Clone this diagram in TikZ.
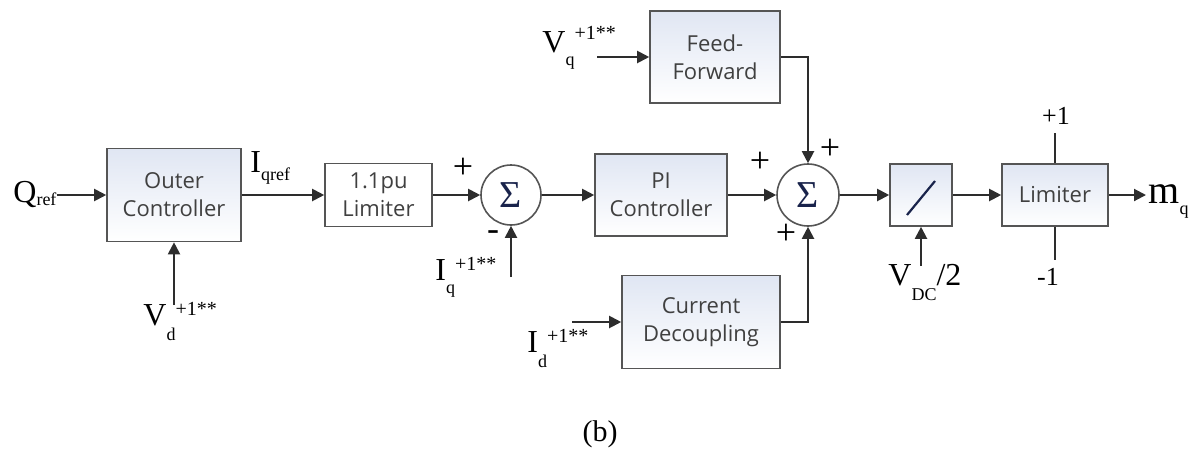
\documentclass[tikz,border=0pt]{standalone}
\usepackage{fontspec}
\setmainfont{Liberation Serif}
\newfontfamily\blkfont{Open Sans}
\usetikzlibrary{arrows.meta}
\definecolor{boxline}{RGB}{85,85,85}
\definecolor{boxtop}{RGB}{224,230,243}
\definecolor{wire}{RGB}{45,45,45}
\definecolor{navy}{RGB}{25,35,75}
% signal name: main letter, lowered subscript, raised superscript
\newcommand{\sig}[4][0.4em]{#2\raisebox{-#1}{\fontsize{9}{9}\selectfont #3}\raisebox{0.3em}{\fontsize{10}{10}\selectfont #4}}
\tikzset{
  boxbase/.style={draw=boxline,line width=0.8pt,align=center,inner sep=0pt,
    font=\blkfont\fontsize{11}{14}\selectfont,text=black!75},
  blk/.style={boxbase,top color=boxtop,bottom color=white},
  plainblk/.style={boxbase,fill=white},
  sumpt/.style={circle,draw=boxline,line width=0.8pt,fill=white,inner sep=0pt,
    minimum size=30pt,text=navy,font=\fontsize{19}{19}\selectfont},
  flow/.style={draw=wire,line width=1pt,-{Triangle[length=6pt,width=6pt]}},
  wireln/.style={draw=wire,line width=1pt},
  lbl/.style={inner sep=0pt,font=\fontsize{16}{18}\selectfont},
  sgn/.style={inner sep=0pt,font=\fontsize{18}{18}\selectfont},
  lim/.style={inner sep=0pt,font=\fontsize{13}{13}\selectfont}
}
\begin{document}
\begin{tikzpicture}[x=0.5pt,y=-0.5pt]
  \useasboundingbox (0,0) rectangle (1202,450);

  % blocks
  \node[blk,minimum width=67pt,minimum height=46.5pt] (outer) at (174,195) {Outer\\Controller};
  \node[plainblk,minimum width=53.5pt,minimum height=31.5pt] (lim1) at (378.5,195) {1.1pu\\Limiter};
  \node[sumpt] (sum1) at (511,195) {Σ};
  \node[blk,minimum width=66pt,minimum height=41pt] (pi) at (661,195) {PI\\Controller};
  \node[blk,minimum width=65pt,minimum height=46pt] (ff) at (715,57) {Feed-\\Forward};
  \node[sumpt,minimum size=31pt] (sum2) at (808,195) {Σ};
  \node[blk,minimum width=79pt,minimum height=46.5pt] (cd) at (701,322) {Current\\Decoupling};
  \node[blk,minimum width=31pt,minimum height=31pt] (div) at (921,195) {};
  \draw[navy,line width=1.1pt] ([shift={(-14,20)}]div.center) -- ([shift={(14,-14)}]div.center);
  \node[blk,minimum width=53pt,minimum height=31pt] (lim2) at (1055,195) {Limiter};

  % signal names
  \node[lbl,anchor=base west] (qref) at (13,202) {\sig[0.1em]{Q}{ref}{}};
  \node[lbl,anchor=base west] (iqref) at (250,172) {\sig[0.28em]{I}{qref}{}};
  \node[lbl,anchor=base west] (vd) at (143,325) {\sig[0.47em]{V}{d}{+1**}};
  \node[lbl,anchor=base west] (iq) at (435,280) {\sig[0.42em]{I}{q}{+1**}};
  \node[lbl,anchor=base west] (vq) at (542,52) {\sig[0.42em]{V}{q}{\raisebox{0.15em}{+1**}}};
  \node[lbl,anchor=base west] (id) at (527,352) {\sig[0.47em]{I}{d}{+1**}};
  \node[lbl,anchor=base west] (vdc) at (888,285) {\sig[0.47em]{V}{DC}{}/2};
  \node[lbl,anchor=base west] (mq) at (1148,203) {{\fontsize{20}{20}\selectfont m}\raisebox{-0.35em}{\fontsize{9}{9}\selectfont q}};
  \node[lim] (plusone) at (1056,116) {+1};
  \node[lim] (minusone) at (1048,277) {-1};

  % signs at the summing points
  \node[sgn] (s1a) at (463,168) {+};
  \node[sgn] (s1b) at (493,236) {-};
  \node[sgn] (s2a) at (760,162) {+};
  \node[sgn] (s2b) at (830,149) {+};
  \node[sgn] (s2c) at (786,234) {+};

  % free ends
  \coordinate (vdin) at (174,305);
  \coordinate (iqin) at (511,277);
  \coordinate (vqin) at (597,57);
  \coordinate (idin) at (572,322);
  \coordinate (vdcin) at (921,266);
  \coordinate (upper) at (1055,133);
  \coordinate (lower) at (1055,260);
  \coordinate (mqin) at (1146,195);

  % connectors
  \draw[flow] (qref.east |- outer.west) -- (outer.west);
  \draw[flow] (vdin) -- (outer.south);
  \draw[flow] (outer.east) -- (lim1.west);
  \draw[flow] (lim1.east) -- (sum1.west);
  \draw[flow] (iqin) -- (sum1.south);
  \draw[flow] (sum1.east) -- (pi.west);
  \draw[flow] (pi.east) -- (sum2.west);
  \draw[flow] (vqin) -- (ff.west);
  \draw[flow] (ff.east) -| (sum2.north);
  \draw[flow] (idin) -- (cd.west);
  \draw[flow] (cd.east) -| (sum2.south);
  \draw[flow] (sum2.east) -- (div.west);
  \draw[flow] (vdcin) -- (div.south);
  \draw[flow] (div.east) -- (lim2.west);
  \draw[wireln] (upper) -- (lim2.north);
  \draw[wireln] (lim2.south) -- (lower);
  \draw[flow] (lim2.east) -- (mqin);

  \node[inner sep=0pt,font=\fontsize{15}{15}\selectfont] (cap) at (600,434) {(b)};
\end{tikzpicture}
\end{document}
